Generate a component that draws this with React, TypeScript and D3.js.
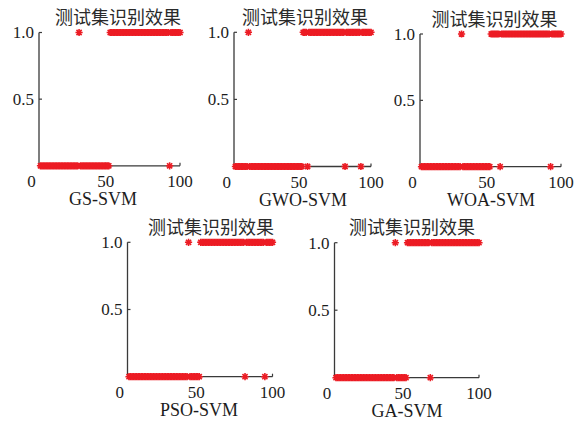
import React from "react";
import * as d3 from "d3";

// Test-set recognition results: predicted class (0 / 1) for each test sample.
const TITLE = "测试集识别效果";
const MODEL_NAMES = ["GS-SVM", "GWO-SVM", "WOA-SVM", "PSO-SVM", "GA-SVM"];
const SAMPLE_IDS = d3.range(6, 101); // samples 6 … 100

// Predicted labels, grouped as samples 6-10, 11-20, 21-30, … , 91-100
const PRED_GS = "00000 0000000000 0000000000 0100000000 0000000000 0011111111 1111111111 1111111111 1111111111 1101111111";
const PRED_GWO = "00000 0000100000 0000000000 0000000000 0000000000 0011101111 1111111111 1111111111 1011111111 1101111111";
const PRED_WOA = "00000 0000000000 0000000000 0010000000 0000000000 0011111101 1111111111 1111111111 1111111111 1101111111";
const PRED_PSO = "00000 0000000000 0000000000 0000000000 0000100000 0011111111 1111111111 1111111111 1011111111 1111011111";
const PRED_GA = "00000 0000000000 0000000000 0000000000 0000100000 0011111111 1111111011 1111111111 1111111111 1111111111";

const X_TICK_LABELS = [0, 50, 100];
const X_TICK_MARKS = [50, 100];
const Y_TICKS = [0.5, 1.0];

const parse = (s: string) => s.replace(/\s+/g, "").split("").map(Number);
const SERIES = [PRED_GS, PRED_GWO, PRED_WOA, PRED_PSO, PRED_GA].map(parse);

// Axes boxes for the five panels
const PANELS = [
  { x0: 39, x1: 180, yTop: 32.5, yBot: 165.8, titleX: 118, labelX: 103 },
  { x0: 234, x1: 371, yTop: 32.3, yBot: 166.5, titleX: 305, labelX: 303 },
  { x0: 420, x1: 561, yTop: 34, yBot: 166.7, titleX: 494.5, labelX: 491 },
  { x0: 127.5, x1: 272.5, yTop: 242.3, yBot: 376.7, titleX: 211, labelX: 199 },
  { x0: 334.5, x1: 479, yTop: 242.7, yBot: 377.7, titleX: 412, labelX: 407 },
];

const RED = "#ec1c24";
const AXIS = "#3a3a3a";
const TEXT = "#1c1c1c";
const SERIF = "'Liberation Serif', 'Times New Roman', serif";
const CJK = "'Noto Sans CJK SC', sans-serif";

// Eight-armed asterisk marker
function asterisk(r: number) {
  const d = r * 0.72;
  return `M${-r},0H${r}M0,${-r}V${r}M${-d},${-d}L${d},${d}M${-d},${d}L${d},${-d}`;
}
const MARK = asterisk(3.6);

function Panel({ idx }: { idx: number }) {
  const p = PANELS[idx];
  const values = SERIES[idx];
  const x = d3.scaleLinear().domain([5, 100]).range([p.x0, p.x1]);
  const y = d3.scaleLinear().domain([0, 1]).range([p.yBot, p.yTop]);
  return (
    <g>
      <text x={p.titleX} y={p.yTop - 8.5} textAnchor="middle" fontFamily={CJK} fontSize={18} fill="#2a2a2a">
        {TITLE}
      </text>
      {/* axes */}
      <path
        d={`M${x(5)},${y(1)}V${y(0)}H${x(100)}`}
        fill="none"
        stroke={AXIS}
        strokeWidth={1.3}
      />
      {Y_TICKS.map((t) => (
        <g key={"y" + t}>
          <line x1={x(5)} x2={x(5) + 3} y1={y(t)} y2={y(t)} stroke={AXIS} strokeWidth={1.2} />
          <text x={x(5) - 5} y={y(t) + 5.8} textAnchor="end" fontFamily={SERIF} fontSize={17} fill={TEXT}>
            {t.toFixed(1)}
          </text>
        </g>
      ))}
      {X_TICK_MARKS.map((t) => (
        <line key={"xm" + t} x1={x(t)} x2={x(t)} y1={y(0)} y2={y(0) - 3} stroke={AXIS} strokeWidth={1.2} />
      ))}
      {X_TICK_LABELS.map((t) => (
        <text key={"xl" + t} x={x(t)} y={y(0) + 21} textAnchor="middle" fontFamily={SERIF} fontSize={17} fill={TEXT}>
          {t}
        </text>
      ))}
      <text x={p.labelX} y={y(0) + 39.5} textAnchor="middle" fontFamily={SERIF} fontSize={18} fill={TEXT}>
        {MODEL_NAMES[idx]}
      </text>
      {/* predicted labels */}
      <g stroke={RED} strokeWidth={1.6} fill="none">
        {values.map((v, i) => (
          <path key={i} d={MARK} transform={`translate(${x(SAMPLE_IDS[i])},${y(v)})`} />
        ))}
      </g>
    </g>
  );
}

export default function App() {
  return (
    <div style={{ position: "absolute", left: 0, top: 0 }}>
      <svg width={588} height={423} style={{ display: "block", background: "#fff" }}>
        {MODEL_NAMES.map((_, i) => (
          <Panel key={i} idx={i} />
        ))}
      </svg>
    </div>
  );
}
